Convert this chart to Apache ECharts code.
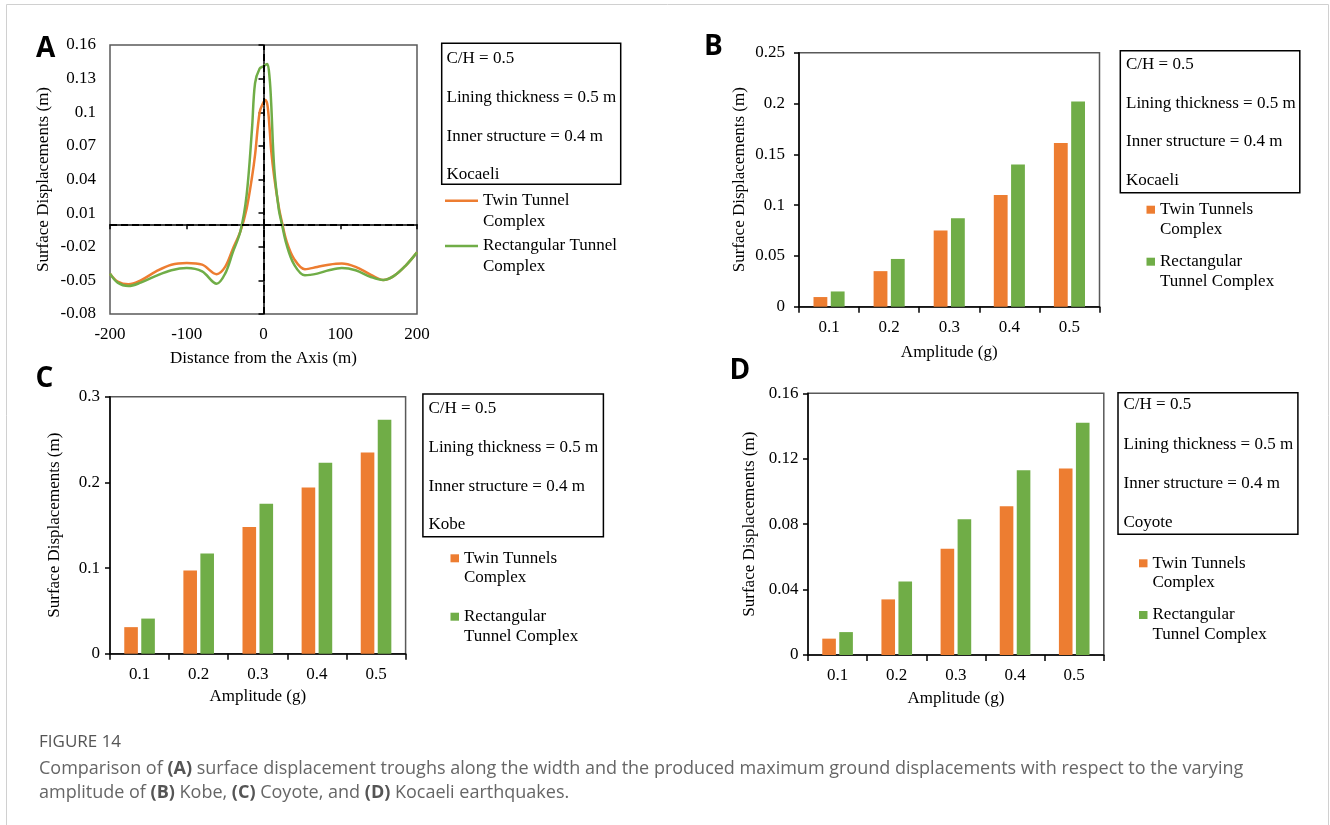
<!DOCTYPE html>
<html><head><meta charset="utf-8">
<script src="https://cdn.jsdelivr.net/npm/echarts@6/dist/echarts.min.js"></script>
<style>html,body{margin:0;padding:0;background:#fff}#c{width:1330px;height:825px}</style>
</head><body><div id="c"></div>
<script>
// ---------- Panel A data ----------
const distanceA = [-200,-190,-176,-160,-140,-120,-100,-80,-61,-50,-40,-30,-22,-15,-11,-5,0,2,5,8,10,14,20,24,30,40,54,70,85,102,120,140,156,170,185,200];
const twinA = [-0.044,-0.051,-0.0535,-0.050,-0.042,-0.036,-0.0345,-0.036,-0.0445,-0.038,-0.022,-0.006,0.014,0.042,0.062,0.100,0.109,0.111,0.107,0.085,0.066,0.042,0.015,0.002,-0.015,-0.031,-0.040,-0.038,-0.036,-0.035,-0.038,-0.045,-0.0497,-0.046,-0.037,-0.025];
const rectA = [-0.044,-0.052,-0.055,-0.052,-0.046,-0.041,-0.039,-0.042,-0.053,-0.044,-0.025,-0.006,0.026,0.085,0.126,0.139,0.141,0.142,0.143,0.130,0.108,0.050,0.013,0.000,-0.018,-0.036,-0.0455,-0.044,-0.041,-0.039,-0.041,-0.047,-0.0497,-0.046,-0.037,-0.025];
const yTicksA = [-0.08,-0.05,-0.02,0.01,0.04,0.07,0.1,0.13,0.16];
const xTicksA = [-200,-100,0,100,200];

// ---------- Bar panels ----------
const amplitudes = ['0.1','0.2','0.3','0.4','0.5'];
const twinKocaeli = [0.0095,0.035,0.075,0.110,0.161];
const rectKocaeli = [0.015,0.047,0.087,0.140,0.202];
const twinKobe = [0.031,0.097,0.148,0.194,0.235];
const rectKobe = [0.041,0.117,0.175,0.223,0.273];
const twinCoyote = [0.010,0.034,0.065,0.091,0.114];
const rectCoyote = [0.014,0.045,0.083,0.113,0.142];

const infoKocaeli = ['C/H = 0.5','Lining thickness = 0.5 m','Inner structure = 0.4 m','Kocaeli'];
const infoKobe = ['C/H = 0.5','Lining thickness = 0.5 m','Inner structure = 0.4 m','Kobe'];
const infoCoyote = ['C/H = 0.5','Lining thickness = 0.5 m','Inner structure = 0.4 m','Coyote'];

const ORANGE = '#ED7D31', GREEN = '#70AD47';
const SERIF = 'Liberation Serif';
const FS = 17;

const chart = echarts.init(document.getElementById('c'), null, {renderer:'canvas'});

const axisLine = {show:true, lineStyle:{color:'#000', width:1.5}};
const axisTick = {show:true, length:5, lineStyle:{color:'#000', width:1.5}};
const lbl = (m) => ({color:'#000', fontFamily:SERIF, fontSize:FS, margin:m});
const nameTS = {color:'#000', fontFamily:SERIF, fontSize:FS};

const grids = [
  {left:110, top:45, width:307, height:269},
  {left:799, top:52.7, width:300.5, height:254},
  {left:110, top:396.7, width:295.6, height:257},
  {left:808, top:393.3, width:295.8, height:261.7}
].map(g => Object.assign({show:true, borderColor:'#595959', borderWidth:1.5, backgroundColor:'transparent'}, g));

const xAxes = [
  {gridIndex:0, type:'value', min:-200, max:200, interval:100, axisLine, axisTick:Object.assign({}, axisTick, {customValues:xTicksA}),
   axisLabel:Object.assign(lbl(12), {customValues:xTicksA}), splitLine:{show:false},
   name:'Distance from the Axis (m)', nameLocation:'middle', nameGap:36, nameTextStyle:nameTS},
];
const yAxes = [
  {gridIndex:0, type:'value', min:-0.08, max:0.16, axisLine, axisTick:Object.assign({}, axisTick, {customValues:yTicksA}),
   axisLabel:Object.assign(lbl(14), {customValues:yTicksA}), splitLine:{show:false},
   name:'Surface Displacements (m)', nameLocation:'middle', nameGap:58, nameTextStyle:nameTS},
];
const barCfg = [
  {g:1, max:0.25, interval:0.05, ym:14, yGap:51, xGap:37},
  {g:2, max:0.3, interval:0.1, ym:10, yGap:47, xGap:34},
  {g:3, max:0.16, interval:0.04, ym:9.5, yGap:50, xGap:35}
];
barCfg.forEach(c => {
  xAxes.push({gridIndex:c.g, type:'category', data:amplitudes, boundaryGap:true, axisLine,
    axisTick:Object.assign({}, axisTick, {length:6, alignWithLabel:false}), axisLabel:lbl(12),
    name:'Amplitude (g)', nameLocation:'middle', nameGap:c.xGap, nameTextStyle:nameTS});
  yAxes.push({gridIndex:c.g, type:'value', min:0, max:c.max, interval:c.interval, axisLine, axisTick,
    axisLabel:lbl(c.ym), splitLine:{show:false},
    name:'Surface Displacements (m)', nameLocation:'middle', nameGap:c.yGap, nameTextStyle:nameTS});
});

const pairs = (xs, ys) => xs.map((x,i) => [x, ys[i]]);
const dash = {type:[7,4], color:'#000', width:2};

const series = [
  {name:'Twin Tunnel Complex', type:'line', xAxisIndex:0, yAxisIndex:0, data:pairs(distanceA, twinA),
   smooth:0.35, showSymbol:false, symbol:'none', lineStyle:{color:ORANGE, width:2.5}, itemStyle:{color:ORANGE}},
  {name:'Rectangular Tunnel Complex', type:'line', xAxisIndex:0, yAxisIndex:0, data:pairs(distanceA, rectA),
   smooth:0.35, showSymbol:false, symbol:'none', lineStyle:{color:GREEN, width:2.5}, itemStyle:{color:GREEN},
   markLine:{silent:true, symbol:['none','none'], label:{show:false}, lineStyle:dash, emphasis:{disabled:true},
     data:[{xAxis:0},{yAxis:0}]}, z:3}
];
const barSets = [[twinKocaeli, rectKocaeli],[twinKobe, rectKobe],[twinCoyote, rectCoyote]];
barSets.forEach((set, i) => {
  series.push({name:'Twin Tunnels Complex', type:'bar', xAxisIndex:i+1, yAxisIndex:i+1, data:set[0],
    barWidth:'23%', barGap:'25%', itemStyle:{color:ORANGE}});
  series.push({name:'Rectangular Tunnel Complex (bars)', type:'bar', xAxisIndex:i+1, yAxisIndex:i+1, data:set[1],
    barWidth:'23%', barGap:'25%', itemStyle:{color:GREEN}});
});

// legend: a leading empty line makes the icon sit beside the first text line
function legendItem(name, text, left, cy, opts, L) {
  return Object.assign({show:true, orient:'vertical', left:left, top:cy - 1.5*L, padding:0, data:[name],
    itemGap:0, selectedMode:false, formatter:() => '\n' + text,
    textStyle:{fontFamily:SERIF, fontSize:FS, color:'#000', lineHeight:L}}, opts);
}
const lineIcon = {icon:'rect', itemWidth:33, itemHeight:2.5};
const sqIcon = {icon:'rect', itemWidth:8.5, itemHeight:8};
const legends = [
  legendItem('Twin Tunnel Complex', 'Twin Tunnel\nComplex', 445, 200.7, lineIcon, 21),
  legendItem('Rectangular Tunnel Complex', 'Rectangular Tunnel\nComplex', 445, 246, lineIcon, 21),
  legendItem('Twin Tunnels Complex', 'Twin Tunnels\nComplex', 1146.5, 209.7, sqIcon, 19.5),
  legendItem('Rectangular Tunnel Complex (bars)', 'Rectangular\nTunnel Complex', 1146.5, 261.7, sqIcon, 19.5),
  legendItem('Twin Tunnels Complex', 'Twin Tunnels\nComplex', 450.5, 558.3, sqIcon, 19.5),
  legendItem('Rectangular Tunnel Complex (bars)', 'Rectangular\nTunnel Complex', 450.5, 616.7, sqIcon, 19.5),
  legendItem('Twin Tunnels Complex', 'Twin Tunnels\nComplex', 1139, 563.3, sqIcon, 19.5),
  legendItem('Rectangular Tunnel Complex (bars)', 'Rectangular\nTunnel Complex', 1139, 615, sqIcon, 19.5)
];

// info boxes
const graphics = [];
function infoBox(x0, y0, x1, y1, lines, tx, ty0, step) {
  graphics.push({type:'rect', shape:{x:x0, y:y0, width:x1-x0, height:y1-y0}, style:{fill:'none', stroke:'#000', lineWidth:1.5}, silent:true});
  lines.forEach((t, i) => graphics.push({type:'text', x:tx, y:ty0 + i*step, silent:true,
    style:{text:t, fontFamily:SERIF, fontSize:FS, fill:'#000', verticalAlign:'middle', align:'left'}}));
}
infoBox(441.7, 43.3, 620.7, 184.3, infoKocaeli, 446.5, 58.3, 38.9);
infoBox(1120.3, 50.7, 1299.8, 192.7, infoKocaeli, 1126, 64.3, 38.8);
infoBox(422.9, 394, 603.4, 536.7, infoKobe, 428.5, 408.3, 38.9);
infoBox(1118, 392.7, 1297.9, 534.3, infoCoyote, 1123.5, 405, 39.2);

// panel letters
[['A',36,49],['B',704,46.7],['C',35.5,379],['D',729.5,371]].forEach(p => graphics.push({type:'text', x:p[1], y:p[2], silent:true,
  style:{text:p[0], fontFamily:'Open Sans', fontWeight:'bold', fontSize:28, fill:'#000', verticalAlign:'middle'}}));

// outer frame
graphics.push({type:'rect', shape:{x:6.5, y:4.5, width:1322, height:840}, style:{fill:'none', stroke:'#d0d0d0', lineWidth:1}, silent:true});

// caption
const capRich = {b:{fontFamily:'Open Sans', fontSize:18, fontWeight:'bold', fill:'#555'}};
graphics.push({type:'text', x:39, y:742.5, silent:true, style:{text:'FIGURE 14', fontFamily:'Open Sans', fontSize:17, fill:'#555', verticalAlign:'middle'}});
graphics.push({type:'text', x:39, y:769, silent:true, style:{text:'Comparison of {b|(A)} surface displacement troughs along the width and the produced maximum ground displacements with respect to the varying',
  fontFamily:'Open Sans', fontSize:18, fill:'#666', verticalAlign:'middle', rich:capRich}});
graphics.push({type:'text', x:39, y:793, silent:true, style:{text:'amplitude of {b|(B)} Kobe, {b|(C)} Coyote, and {b|(D)} Kocaeli earthquakes.',
  fontFamily:'Open Sans', fontSize:18, fill:'#666', verticalAlign:'middle', rich:capRich}});

chart.setOption({
  animation:false,
  backgroundColor:'#fff',
  grid:grids, xAxis:xAxes, yAxis:yAxes, series:series, legend:legends, graphic:graphics
});
</script></body></html>
